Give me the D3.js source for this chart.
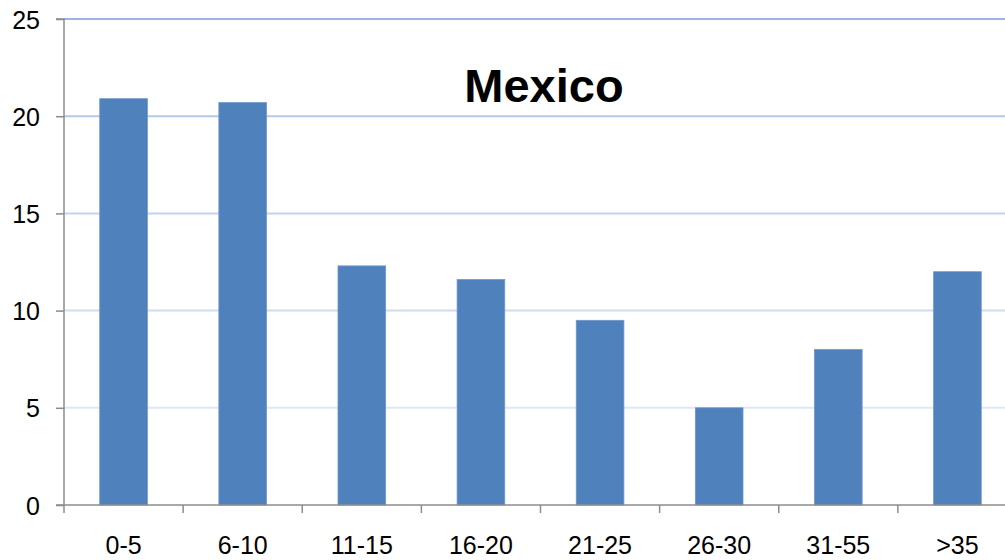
<!DOCTYPE html>
<html>
<head>
<meta charset="utf-8">
<script src="https://cdn.jsdelivr.net/npm/d3@7"></script>
<style>
  html, body { margin: 0; padding: 0; background: #fff; }
  svg { display: block; }
  text { font-family: "Liberation Sans", Arial, sans-serif; fill: #000; }
</style>
</head>
<body>
<svg id="chart" width="1005" height="560"></svg>
<script>
// Age groups and their shares
const categories = ["0-5", "6-10", "11-15", "16-20", "21-25", "26-30", "31-55", ">35"];
const values = [20.9, 20.7, 12.3, 11.6, 9.5, 5.0, 8.0, 12.0];
const yTicks = [0, 5, 10, 15, 20, 25];
const title = "Mexico";

// Gridline shades, fading from the top line down
const gridColors = { 5: "#dfe7f6", 10: "#d0dcf2", 15: "#c3d3ee", 20: "#b4c8ea", 25: "#9ab3e0" };

const svg = d3.select("#chart");
const plotLeft = 64, plotRight = 1017, plotTop = 19, plotBottom = 505;

const x = d3.scaleBand().domain(categories).range([plotLeft, plotRight]).paddingInner(0.6).paddingOuter(0.3);
const y = d3.scaleLinear().domain([0, 25]).range([plotBottom, plotTop]);

// Horizontal gridlines
svg.append("g")
  .selectAll("line")
  .data(yTicks.filter(d => d > 0))
  .join("line")
  .attr("x1", plotLeft).attr("x2", 1005)
  .attr("y1", d => y(d)).attr("y2", d => y(d))
  .attr("stroke", d => gridColors[d])
  .attr("stroke-width", 2);

// Bars
svg.append("g")
  .selectAll("rect")
  .data(values)
  .join("rect")
  .attr("x", (d, i) => x(categories[i]))
  .attr("width", x.bandwidth())
  .attr("y", d => y(d))
  .attr("height", d => y(0) - y(d))
  .attr("fill", "#4f81bd")
  .attr("stroke", "#7096c9")
  .attr("stroke-width", 0.8);

// Y axis
const yAxis = svg.append("g")
  .attr("transform", `translate(${plotLeft},0)`)
  .call(d3.axisLeft(y).tickValues(yTicks).tickSize(8).tickPadding(16));
yAxis.select(".domain").attr("stroke", "#8c8c8c").attr("stroke-width", 1.5).attr("d", `M-8,${plotTop}H0V${plotBottom}H-8`);
yAxis.selectAll(".tick line").attr("stroke", "#8c8c8c").attr("stroke-width", 1.5);
yAxis.selectAll(".tick text").attr("font-size", 25).attr("dy", "0.36em")
  .style("font-family", '"Liberation Sans", Arial, sans-serif').attr("fill", "#000");

// X axis with ticks between the categories
const xAxis = svg.append("g").attr("transform", `translate(0,${plotBottom})`);
xAxis.append("line")
  .attr("x1", plotLeft).attr("x2", 1005).attr("y1", 0).attr("y2", 0)
  .attr("stroke", "#8c8c8c").attr("stroke-width", 1.5);
const step = x.step();
xAxis.selectAll("line.tick")
  .data(d3.range(categories.length))
  .join("line")
  .attr("class", "tick")
  .attr("x1", i => plotLeft + i * step).attr("x2", i => plotLeft + i * step)
  .attr("y1", 0).attr("y2", 8)
  .attr("stroke", "#8c8c8c").attr("stroke-width", 1.5);
xAxis.selectAll("text")
  .data(categories)
  .join("text")
  .attr("x", d => x(d) + x.bandwidth() / 2)
  .attr("y", 49)
  .attr("text-anchor", "middle")
  .attr("font-size", 25)
  .text(d => d);

// Title
svg.append("text")
  .attr("x", 544).attr("y", 102)
  .attr("text-anchor", "middle")
  .attr("font-size", 47)
  .attr("font-weight", "bold")
  .text(title);
</script>
</body>
</html>
